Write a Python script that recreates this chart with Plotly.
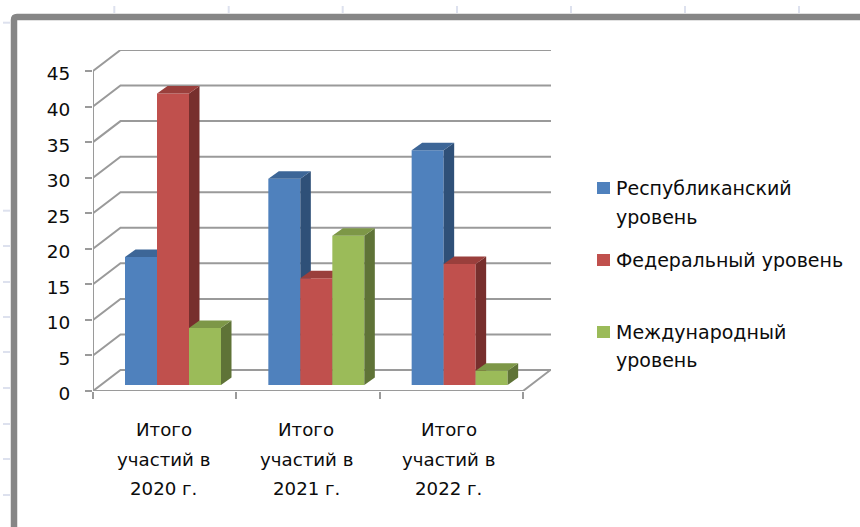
import plotly.graph_objects as go

categories = ["Итого участий в 2020 г.", "Итого участий в 2021 г.", "Итого участий в 2022 г."]
category_lines = [["Итого", "участий в", "2020 г."], ["Итого", "участий в", "2021 г."], ["Итого", "участий в", "2022 г."]]
republican = [18, 29, 33]
federal = [41, 15, 17]
international = [8, 21, 2]
series_names = ["Республиканский уровень", "Федеральный уровень", "Международный уровень"]
y_ticks = [0, 5, 10, 15, 20, 25, 30, 35, 40, 45]

series = [republican, federal, international]
front = ["#4F81BD", "#C0504D", "#9BBB59"]
top = ["#3D6697", "#9A3F3C", "#7D9747"]
side = ["#2F5078", "#772F2D", "#5F7337"]

W, H = 860, 527
X0, X1, Y0, Y1 = 93, 551, 391, 50
CAT_PX = 143.33
VAL_PX = 320 / 45
FONT = "DejaVu Sans"
TXT = "#0c0c0c"
FS_TICK, FS_CAT, FS_LEG = 18.5, 18.2, 19

def xu(px): return px / CAT_PX
def yu(px): return px / VAL_PX
def xp(px): return (px - X0) / (X1 - X0)
def yp(px): return (Y0 - px) / (Y0 - Y1)

WALL_DX, WALL_DY = xu(27.5), yu(21)
BAR_DX, BAR_DY = xu(10.5), yu(7.5)
BAR_W = xu(32)
BASE = yu(6)
GROUP_START = xu(32)   # first bar's left edge inside a category

fig = go.Figure()
GRID = dict(color="#9a9a9a", width=2)

def line(xs, ys, **kw):
    fig.add_trace(go.Scatter(x=xs, y=ys, mode="lines", line=kw.get("line", GRID), hoverinfo="skip",
                             showlegend=False, cliponaxis=False, zorder=0))

# back wall and left wall
for v in y_ticks:
    line([0, WALL_DX, xu(X1 - X0)], [v, v + WALL_DY, v + WALL_DY])
# floor and axes
n = len(categories)
line([0, 0], [0, y_ticks[-1]])
line([0, n, n + WALL_DX], [0, 0, WALL_DY])

# bars: painted left to right, each with side, top and front faces
for s, vals in enumerate(series):
    xl = [i + GROUP_START + s * BAR_W for i in range(n)]
    for x, v in zip(xl, vals):
        xr = x + BAR_W
        b, t = BASE, BASE + v
        fig.add_trace(go.Scatter(x=[xr, xr + BAR_DX, xr + BAR_DX, xr, xr],
                                 y=[b, b + BAR_DY, t + BAR_DY, t, b], mode="lines", fill="toself",
                                 fillcolor=side[s], line=dict(width=0), hoverinfo="skip",
                                 showlegend=False, zorder=1 + s))
        fig.add_trace(go.Scatter(x=[x, x + BAR_DX, xr + BAR_DX, xr, x],
                                 y=[t, t + BAR_DY, t + BAR_DY, t, t], mode="lines", fill="toself",
                                 fillcolor=top[s], line=dict(width=0), hoverinfo="skip",
                                 showlegend=False, zorder=1 + s))
    fig.add_trace(go.Bar(x=[i + BAR_W / 2 for i in xl], y=vals, base=BASE, width=BAR_W, name=series_names[s],
                         marker=dict(color=front[s], line=dict(width=0)), showlegend=False, zorder=1 + s))

anns, shapes = [], []

# category labels, line by line
for i, lines in enumerate(category_lines):
    for ln, shift in zip(lines, (-38, -68, -97)):
        anns.append(dict(x=i * 0.995 + 0.5, y=0, xref="x", yref="y", yshift=shift, xshift=-1, text=ln, showarrow=False,
                         xanchor="center", yanchor="middle", font=dict(family=FONT, size=FS_CAT, color=TXT)))

# legend
legend = [(series_names[0].split(), front[0], 188, 217), (["Федеральный уровень"], front[1], 260, None),
          (series_names[2].split(), front[2], 332, 360)]
for words, col, y1, y2 in legend:
    shapes.append(dict(type="rect", xref="paper", yref="paper", x0=xp(597), x1=xp(610), y0=yp(y1 - 6), y1=yp(y1 + 6),
                       fillcolor=col, line=dict(width=0)))
    for w, y in zip(words, (y1, y2)):
        anns.append(dict(x=xp(614), y=yp(y), xref="paper", yref="paper", text=w, showarrow=False,
                         xanchor="left", yanchor="middle", font=dict(family=FONT, size=FS_LEG, color=TXT)))

# window frame and ruler marks behind it
RULER = "#dde1ee"
for x in (114.3, 228.7, 342.7, 457, 571, 685, 799):
    shapes.append(dict(type="line", xref="paper", yref="paper", x0=xp(x), x1=xp(x), y0=yp(6), y1=yp(13),
                       line=dict(color=RULER, width=2)))
for y in (22.7, 210.7, 246, 282, 317, 352, 388, 424, 459, 495):
    shapes.append(dict(type="line", xref="paper", yref="paper", x0=xp(3), x1=xp(10), y0=yp(y), y1=yp(y),
                       line=dict(color=RULER, width=2)))
shapes.append(dict(type="path", xref="paper", yref="paper",
                   path=f"M {xp(14)},{yp(530)} L {xp(14)},{yp(20)} Q {xp(14)},{yp(17)} {xp(17)},{yp(17)} L {xp(865)},{yp(17)}",
                   line=dict(color="#868686", width=6.5)))

fig.update_layout(
    width=W, height=H, margin=dict(l=X0, r=W - X1, t=Y1, b=H - Y0, pad=0),
    paper_bgcolor="white", plot_bgcolor="white", barmode="overlay", showlegend=False,
    annotations=anns, shapes=shapes,
    xaxis=dict(range=[0, xu(X1 - X0)], tickvals=list(range(n + 1)), showticklabels=False, ticks="outside", ticklen=7,
               tickwidth=2, tickcolor="#9a9a9a", showgrid=False, zeroline=False, showline=False, fixedrange=True),
    yaxis=dict(range=[0, yu(Y0 - Y1)], tickvals=y_ticks, ticks="outside", ticklen=7, tickwidth=2, tickcolor="#9a9a9a",
               showgrid=False, zeroline=False, showline=False, ticklabelstandoff=11, ticklabelshift=3, fixedrange=True,
               tickfont=dict(family=FONT, size=FS_TICK, color=TXT)),
)
fig.write_html("out.html", config={"displayModeBar": False},
               post_script="document.body.style.margin='0';document.documentElement.style.overflow='hidden';")
